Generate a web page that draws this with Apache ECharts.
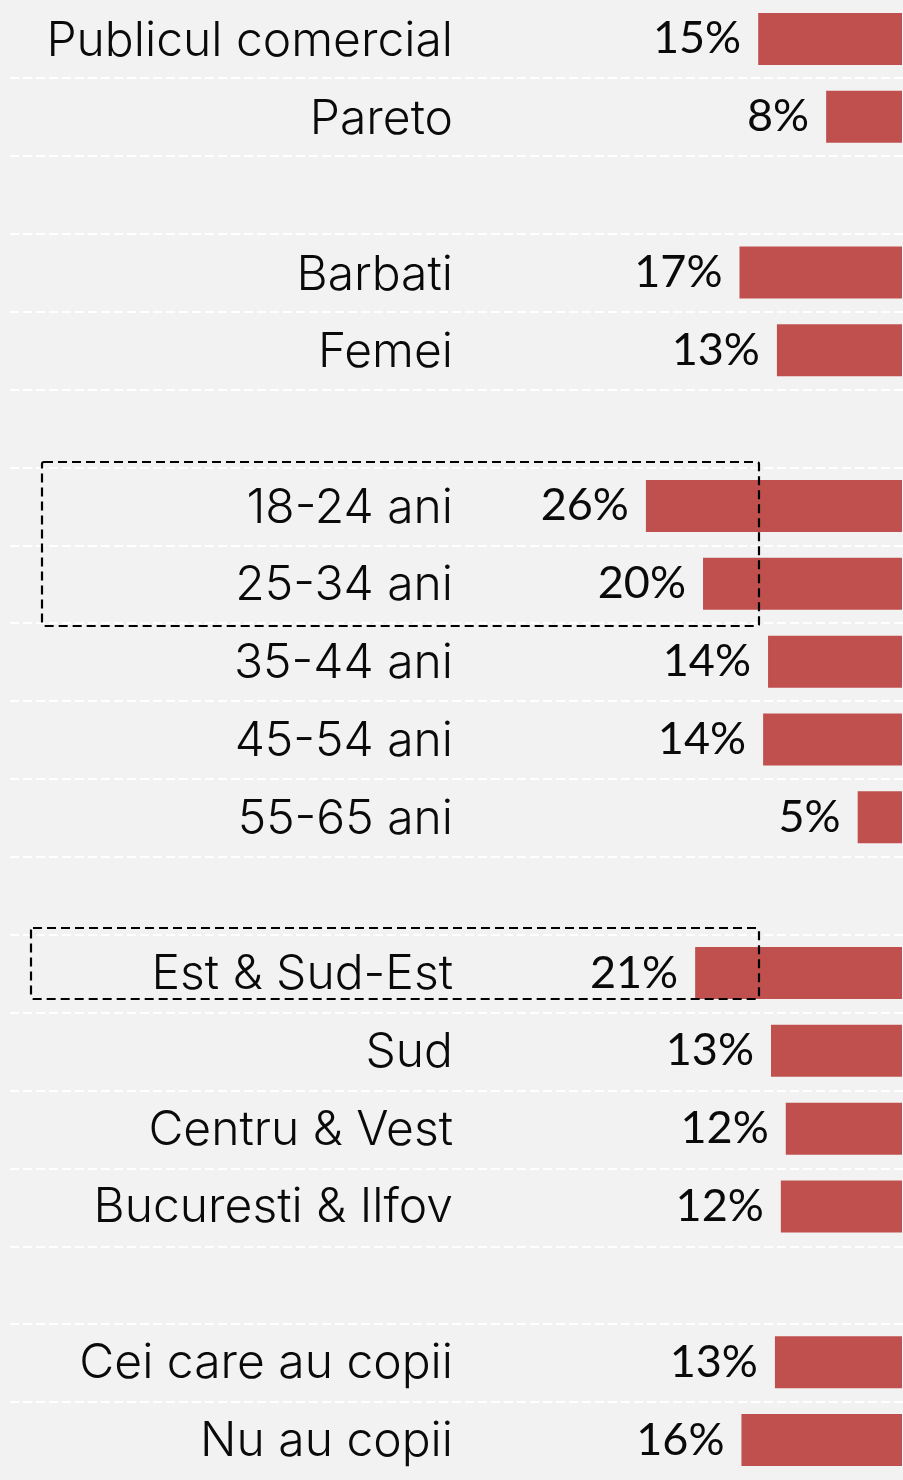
<!DOCTYPE html>
<html>
<head>
<meta charset="utf-8">
<script src="https://cdn.jsdelivr.net/npm/echarts@6/dist/echarts.min.js"></script>
<style>
  html, body { margin: 0; padding: 0; background: #f2f2f2; }
  #chart { width: 903px; height: 1480px; }
</style>
</head>
<body>
<div id="chart"></div>
<script>
// Categories (blank entries are spacer rows between groups)
const categories = [
  'Publicul comercial', 'Pareto', ' ',
  'Barbati', 'Femei', '  ',
  '18-24 ani', '25-34 ani', '35-44 ani', '45-54 ani', '55-65 ani', '   ',
  'Est & Sud-Est', 'Sud', 'Centru & Vest', 'Bucuresti & Ilfov', '    ',
  'Cei care au copii', 'Nu au copii'
];
// Share (%) per category
const values = [
  14.6, 7.7, null,
  16.5, 12.7, null,
  26.0, 20.2, 13.6, 14.1, 4.5, null,
  21.0, 13.3, 11.8, 12.3, null,
  12.9, 16.3
];
const xMax = 90;

const CAT_FONT = 'Inter';
const VAL_FONT = 'Lato';
const chart = echarts.init(document.getElementById('chart'), null, { renderer: 'canvas' });

chart.setOption({
  backgroundColor: '#f2f2f2',
  animation: false,
  grid: [
    // bars
    { left: 15.5, right: 1, top: -3, height: 1482, containLabel: false },
    // row separators
    { left: 10, right: 0, top: 0, height: 1482, containLabel: false },
    // category labels
    { left: 10, right: 0, top: 3, height: 1482, containLabel: false }
  ],
  xAxis: [
    { gridIndex: 0, type: 'value', min: 0, max: xMax, inverse: true, show: false },
    { gridIndex: 1, type: 'value', min: 0, max: 1, show: false },
    { gridIndex: 2, type: 'value', min: 0, max: 1, show: false }
  ],
  yAxis: [
    { gridIndex: 0, type: 'category', data: categories, inverse: true, show: false },
    {
      gridIndex: 1, type: 'category', data: categories, inverse: true,
      axisLine: { show: false }, axisTick: { show: false }, axisLabel: { show: false },
      splitLine: {
        show: true, interval: 0, showMinLine: false, showMaxLine: false,
        lineStyle: { color: '#ffffff', width: 2, type: [9, 4] }
      }
    },
    {
      gridIndex: 2, type: 'category', data: categories, inverse: true,
      axisLine: { show: false }, axisTick: { show: false }, splitLine: { show: false },
      axisLabel: {
        show: true, interval: 0, margin: -443, align: 'right',
        fontFamily: CAT_FONT, fontSize: 48, fontWeight: 300, color: '#0a0a0a'
      }
    }
  ],
  series: [
    {
      type: 'bar',
      xAxisIndex: 0, yAxisIndex: 0,
      data: values,
      barWidth: 52,
      itemStyle: { color: '#c0504d' },
      label: {
        show: true, position: 'left', distance: 17,
        fontFamily: VAL_FONT, fontSize: 45, fontWeight: 400, color: '#0a0a0a',
        formatter: p => (p.value == null ? '' : Math.round(p.value) + '%')
      }
    }
  ],
  graphic: [
    {
      type: 'rect', z: 100,
      shape: { x: 42, y: 462, width: 717, height: 164, r: 2 },
      style: { fill: 'none', stroke: '#000', lineWidth: 2.2, lineDash: [9, 5] }
    },
    {
      type: 'rect', z: 100,
      shape: { x: 31, y: 928, width: 728, height: 71, r: 2 },
      style: { fill: 'none', stroke: '#000', lineWidth: 2.2, lineDash: [9, 5] }
    }
  ]
});
</script>
</body>
</html>
